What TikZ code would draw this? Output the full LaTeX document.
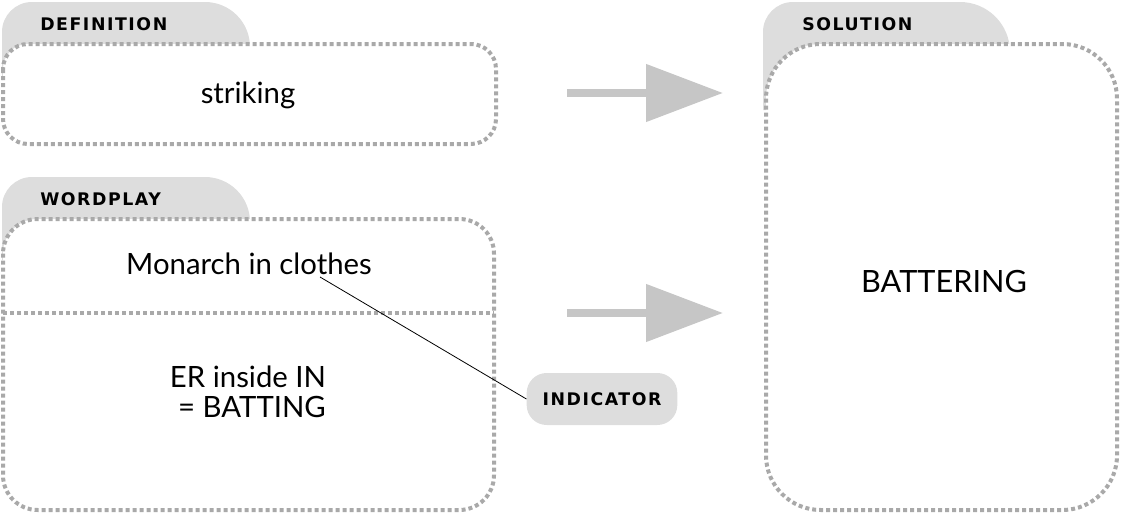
\documentclass[tikz,border=0pt]{standalone}
\usepackage{fontspec}
\setmainfont{Lato}
\newfontfamily\labfont[LetterSpace=9]{DejaVu Sans}
\usetikzlibrary{arrows.meta}
\definecolor{tabgray}{HTML}{DDDDDD}
\definecolor{dotgray}{HTML}{A9A9A9}
\definecolor{arrgray}{HTML}{C6C6C6}
\begin{document}
\begin{tikzpicture}[x=0.75pt,y=-0.75pt,
  dotbox/.style={draw=dotgray, line width=3pt, dash pattern=on 3pt off 2.25pt, fill=white},
  dotline/.style={draw=dotgray, line width=3pt, dash pattern=on 3pt off 2.25pt},
  tabfill/.style={fill=tabgray},
  lab/.style={font=\labfont\bfseries\fontsize{13}{15}\selectfont, anchor=base west, inner sep=0pt},
  body/.style={font=\fontsize{22}{28}\selectfont, anchor=base, inner sep=0pt},
  bigarrow/.style={draw=arrgray, line width=6pt, -{Triangle[length=57.75pt, width=42pt]}},
  indbox/.style={fill=tabgray, rounded corners=15pt, minimum width=113pt, minimum height=39pt, inner sep=0pt, font=\labfont\bfseries\fontsize{13}{15}\selectfont},
  conn/.style={draw=black, line width=0.6pt}]
\useasboundingbox (0,0) rectangle (1122,514);
% tabs
\path[tabfill] (2,80) -- (2,32) arc (180:270:30) -- (205,2) arc (270:360:45) -- (250,80) -- cycle;
\path[tabfill] (2,260) -- (2,207) arc (180:270:30) -- (205,177) arc (270:360:45) -- (250,260) -- cycle;
\path[tabfill] (763,110) -- (763,32) arc (180:270:30) -- (960,2) arc (270:360:50) -- (1010,110) -- cycle;
% boxes
\draw[dotbox, rounded corners=18.75pt] (3,44) rectangle (496,144);
\draw[dotbox, rounded corners=26pt] (3,219) rectangle (494,510);
\draw[dotbox, rounded corners=41pt] (766,44) rectangle (1117,510);
\draw[dotline] (3,313) -- (494,313);
% labels
\node[lab] (ldef) at (40,31) {DEFINITION};
\node[lab] (lword) at (40,205) {WORDPLAY};
\node[lab] (lsol) at (802,31) {SOLUTION};
% texts
\node[body] (striking) at (248,103) {striking};
\node[body] (monarch) at (249,274) {Monarch in clothes};
\node[body] (er) at (248,387) {ER inside IN};
\node[body] (bat) at (252,417) {= BATTING};
\node[body, font=\fontsize{23}{28}\selectfont] (sol) at (944,292) {BATTERING};
% indicator
\node[indbox] (ind) at (602,399) {INDICATOR};
\coordinate (mc) at (320,277);
\draw[conn] (mc) -- (ind.west);
% arrows
\coordinate (a1s) at (567,93);
\coordinate (a1e) at (723,93);
\coordinate (a2s) at (567,313);
\coordinate (a2e) at (723,313);
\draw[bigarrow] (a1s) -- (a1e);
\draw[bigarrow] (a2s) -- (a2e);
\end{tikzpicture}
\end{document}
